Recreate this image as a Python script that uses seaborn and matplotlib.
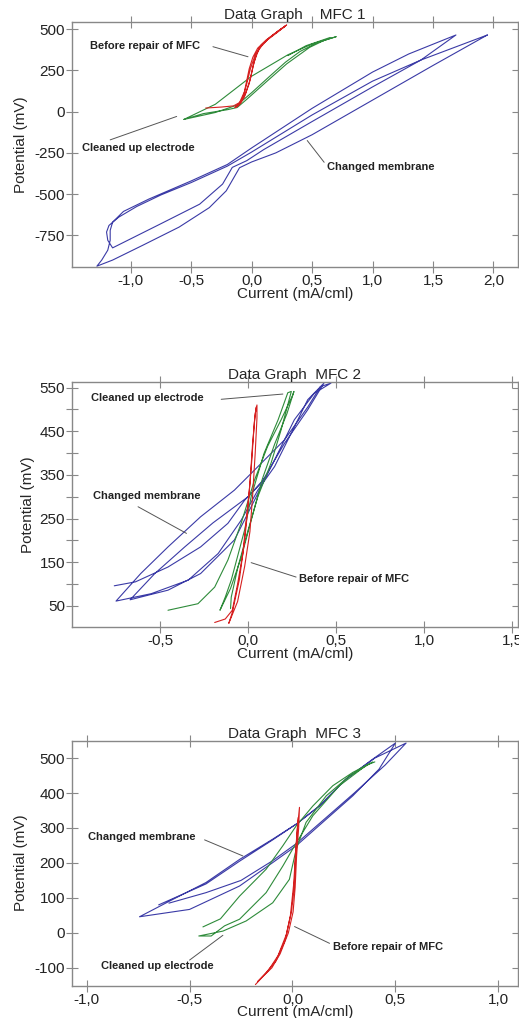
import matplotlib.pyplot as plt
import seaborn as sns
import pandas as pd
from matplotlib.ticker import FuncFormatter, FixedLocator

# ---- MFC 1 ----
mfc1_blue_x = [1.95, 1.5, 1.0, 0.5, 0.2, 0.0, -0.1, -0.21, -0.35, -0.6, -0.9, -1.15, -1.28,
               -1.24, -1.19, -1.17, -1.17, -1.15, -1.06, -0.85, -0.5, -0.2, 0.0, 0.5, 1.0, 1.3, 1.69,
               1.40, 1.0, 0.5, 0.1, -0.04, -0.16, -0.24, -0.43, -0.76, -1.15,
               -1.19, -1.2, -1.18, -1.1, -0.95, -0.75, -0.5, -0.2, 0.0, 0.5, 1.0, 1.40, 1.95]
mfc1_blue_y = [465, 280, 70, -140, -250, -305, -340, -480, -582, -700, -810, -900, -937,
               -900, -840, -780, -720, -670, -605, -530, -420, -320, -220, 20, 240, 350, 465,
               313, 150, -60, -230, -297, -338, -439, -561, -683, -826,
               -780, -730, -690, -640, -575, -505, -430, -330, -245, -20, 185, 313, 465]
mfc1_red_x = [-0.38, -0.25, -0.15, -0.1, -0.06, -0.04, -0.02, 0.01, 0.05, 0.12, 0.2, 0.29,
              0.24, 0.16, 0.09, 0.04, 0.01, -0.02, -0.06, -0.11, -0.14,
              -0.11, -0.07, -0.04, -0.01, 0.03, 0.08, 0.15, 0.22, 0.28,
              0.22, 0.13, 0.06, 0.02, -0.01, -0.05, -0.09, -0.13]
mfc1_red_y = [22, 28, 35, 55, 120, 190, 260, 330, 385, 435, 478, 526,
              500, 455, 410, 350, 270, 170, 90, 45, 25,
              35, 90, 170, 260, 345, 405, 450, 490, 520,
              485, 435, 380, 300, 200, 110, 50, 28]
mfc1_green_x = [-0.56, -0.3, 0.0, 0.3, 0.5, 0.70, 0.55, 0.40, 0.28, 0.15, 0.0, -0.12, -0.3, -0.56,
                -0.4, -0.2, -0.12, -0.04, 0.12, 0.29, 0.48, 0.65, 0.45, 0.3]
mfc1_green_y = [-47, 45, 215, 345, 410, 455, 420, 365, 300, 215, 115, 40, -5, -47,
                -12, 12, 25, 75, 180, 290, 390, 450, 400, 340]

# ---- MFC 2 ----
mfc2_blue_x = [-0.76, -0.64, -0.455, -0.27, -0.115, -0.02, 0.074, 0.206, 0.338, 0.43,
               0.338, 0.244, 0.15, 0.055, -0.04, -0.17, -0.34, -0.55, -0.75,
               -0.61, -0.455, -0.27, -0.078, 0.036, 0.206, 0.338, 0.41, 0.47,
               0.376, 0.262, 0.168, 0.036, -0.078, -0.27, -0.455, -0.67,
               -0.53, -0.36, -0.2, 0.0, 0.1]
mfc2_blue_y = [96, 105, 139, 185, 239, 292, 331, 422, 499, 560,
               522, 445, 369, 315, 246, 170, 109, 78, 61,
               124, 185, 254, 315, 361, 430, 505, 552, 560,
               537, 476, 399, 292, 201, 124, 86, 64,
               124, 185, 240, 300, 345]
mfc2_red_x = [-0.19, -0.13, -0.09, -0.06, -0.03, -0.01, 0.01, 0.025, 0.04, 0.05,
              0.05, 0.04, 0.025, 0.01, -0.02, -0.06, -0.11,
              -0.09, -0.05, -0.02, 0.0, 0.02, 0.035, 0.045]
mfc2_red_y = [12, 20, 40, 100, 170, 250, 330, 420, 490, 510,
              480, 400, 300, 220, 140, 60, 10,
              35, 110, 200, 280, 380, 470, 505]
mfc2_green_x = [-0.455, -0.285, -0.19, -0.115, -0.04, 0.036, 0.11, 0.187, 0.25, 0.26,
                0.22, 0.15, 0.08, 0.02, -0.04, -0.10, -0.16,
                -0.13, -0.096, -0.02, 0.017, 0.09, 0.17, 0.225, 0.245,
                0.187, 0.13, 0.055, 0.0, -0.058, -0.096, -0.10]
mfc2_green_y = [40, 55, 93, 155, 239, 338, 415, 476, 530, 541,
                490, 420, 340, 250, 160, 90, 40,
                70, 109, 224, 300, 399, 476, 538, 541,
                453, 377, 300, 224, 139, 70, 44]

# ---- MFC 3 ----
mfc3_blue_x = [-0.65, -0.42, -0.257, -0.096, 0.018, 0.131, 0.26, 0.39, 0.50,
               0.42, 0.293, 0.164, 0.018, -0.096, -0.257, -0.5, -0.743,
               -0.58, -0.42, -0.257, -0.096, 0.018, 0.131, 0.26, 0.40, 0.552,
               0.45, 0.30, 0.164, 0.018, -0.1, -0.25, -0.42, -0.60]
mfc3_blue_y = [80, 140, 205, 266, 311, 363, 440, 497, 543,
               468, 392, 325, 249, 201, 134, 67, 46,
               96, 144, 210, 268, 311, 363, 440, 500, 543,
               480, 400, 330, 255, 205, 150, 115, 85]
mfc3_red_x = [-0.18, -0.12, -0.07, -0.03, -0.005, 0.008, 0.015, 0.024, 0.034,
              0.03, 0.02, 0.013, 0.003, -0.02, -0.06, -0.10, -0.17,
              -0.13, -0.08, -0.035, -0.01, 0.006, 0.016, 0.028]
mfc3_red_y = [-148, -110, -65, -5, 60, 130, 220, 300, 359,
              300, 220, 130, 60, 0, -60, -100, -140,
              -115, -80, -20, 50, 140, 240, 330]
mfc3_green_x = [-0.435, -0.35, -0.257, -0.128, -0.047, 0.018, 0.099, 0.196, 0.293, 0.39,
                0.277, 0.164, 0.066, 0.018, -0.015, -0.096, -0.225, -0.338, -0.455,
                -0.395, -0.33, -0.257, -0.128, -0.047, 0.01, 0.099, 0.228, 0.36, 0.40]
mfc3_green_y = [17, 40, 105, 182, 249, 306, 363, 421, 459, 489,
                449, 392, 316, 239, 153, 86, 34, 5, -9,
                -9, 20, 39, 115, 191, 249, 335, 421, 480, 489]

titles = ['Data Graph    MFC 1', 'Data Graph  MFC 2', 'Data Graph  MFC 3']
x_ticks = [[-1.0, -0.5, 0.0, 0.5, 1.0, 1.5, 2.0],
           [-0.5, 0.0, 0.5, 1.0, 1.5],
           [-1.0, -0.5, 0.0, 0.5, 1.0]]
y_ticks = [[-750, -500, -250, 0, 250, 500],
           [50, 150, 250, 350, 450, 550],
           [-100, 0, 100, 200, 300, 400, 500]]
y_minor = [[], [100, 200, 300, 400, 500], []]
x_lims = [(-1.486, 2.201), (-1.0, 1.53), (-1.071, 1.094)]
y_lims = [(-944, 542), (1, 562), (-151, 550)]

# annotation: (label, text x, text y, line start, line end)
notes = [
    [('Before repair of MFC', -1.34, 398, (-0.32, 394), (-0.03, 333)),
     ('Cleaned up electrode', -1.40, -220, (-1.17, -171), (-0.62, -29)),
     ('Changed membrane', 0.62, -338, (0.60, -307), (0.46, -175))],
    [('Cleaned up electrode', -0.89, 526, (-0.153, 523), (0.197, 535)),
     ('Changed membrane', -0.88, 302, (-0.625, 277), (-0.35, 216)),
     ('Before repair of MFC', 0.287, 111, (0.272, 116), (0.017, 149))],
    [('Changed membrane', -0.994, 274, (-0.427, 266), (-0.241, 220)),
     ('Cleaned up electrode', -0.932, -95, (-0.5, -78), (-0.338, -7)),
     ('Before repair of MFC', 0.196, -41, (0.18, -30), (0.01, 18))],
]

curves = [
    [(mfc1_blue_x, mfc1_blue_y), (mfc1_green_x, mfc1_green_y), (mfc1_red_x, mfc1_red_y)],
    [(mfc2_blue_x, mfc2_blue_y), (mfc2_green_x, mfc2_green_y), (mfc2_red_x, mfc2_red_y)],
    [(mfc3_blue_x, mfc3_blue_y), (mfc3_green_x, mfc3_green_y), (mfc3_red_x, mfc3_red_y)],
]
colors = ['#3a3aa6', '#2e8b3a', '#d62020']

sns.set_style('ticks')
plt.rcParams['font.family'] = ['Liberation Sans', 'DejaVu Sans']
plt.rcParams['axes.unicode_minus'] = False

fig = plt.figure(figsize=(5.19, 10.18), dpi=100)
bottoms = [0.7374, 0.3838, 0.0318]
ylabel_pads = [5, 3, 5]
comma = FuncFormatter(lambda v, p: f'{v:.1f}'.replace('.', ','))

for i in range(3):
    ax = fig.add_axes([0.1387, bottoms[i], 0.8588, 0.2407])
    for (xs, ys), c in zip(curves[i], colors):
        df = pd.DataFrame({'current': xs, 'potential': ys})
        sns.lineplot(data=df, x='current', y='potential', sort=False, estimator=None,
                     color=c, linewidth=0.8, ax=ax)
    for label, tx, ty, p0, p1 in notes[i]:
        ax.plot([p0[0], p1[0]], [p0[1], p1[1]], color='#555555', lw=0.7)
        ax.text(tx, ty, label, fontsize=8, fontweight='bold', ha='left', va='center', color='#222222')
    ax.set_xlim(*x_lims[i])
    ax.set_ylim(*y_lims[i])
    ax.xaxis.set_major_locator(FixedLocator(x_ticks[i]))
    ax.xaxis.set_major_formatter(comma)
    ax.yaxis.set_major_locator(FixedLocator(y_ticks[i]))
    ax.yaxis.set_minor_locator(FixedLocator(y_minor[i]))
    ax.tick_params(which='both', direction='inout', length=8, width=0.8, color='#888888',
                   top=True, right=True, labelsize=11, labelcolor='#222222', pad=1)
    for s in ax.spines.values():
        s.set_color('#888888')
        s.set_linewidth(1.0)
    ax.set_title(titles[i], fontsize=11, pad=2)
    ax.set_xlabel('Current (mA/cml)', fontsize=11, labelpad=-1)
    ax.set_ylabel('Potential (mV)', fontsize=11, labelpad=ylabel_pads[i])

fig.savefig('out.png', dpi=100)
